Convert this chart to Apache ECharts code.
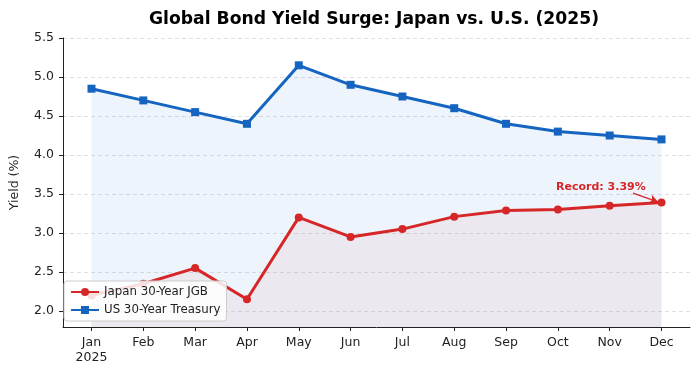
<!DOCTYPE html>
<html>
<head>
<meta charset="utf-8">
<script src="https://cdn.jsdelivr.net/npm/echarts@6/dist/echarts.min.js"></script>
<style>html,body{margin:0;padding:0;background:#fff;}#c{width:700px;height:375px;}</style>
</head>
<body>
<div id="c"></div>
<script>
const months = ['Jan\n2025','Feb','Mar','Apr','May','Jun','Jul','Aug','Sep','Oct','Nov','Dec'];
const japanJGB = [2.20, 2.35, 2.55, 2.15, 3.20, 2.95, 3.05, 3.21, 3.29, 3.30, 3.35, 3.39];
const usTreasury = [4.85, 4.70, 4.55, 4.40, 5.15, 4.90, 4.75, 4.60, 4.40, 4.30, 4.25, 4.20];
const yTicks = [2.0, 2.5, 3.0, 3.5, 4.0, 4.5, 5.0, 5.5];
const recordLabel = 'Record: 3.39%';

const idx = months.map((_, i) => i);
const font = '"DejaVu Sans", sans-serif';
const red = '#d62728';
const blue = '#1565c0';

const chart = echarts.init(document.getElementById('c'), null, {renderer: 'canvas'});
chart.setOption({
  animation: false,
  backgroundColor: '#fff',
  title: {
    text: 'Global Bond Yield Surge: Japan vs. U.S. (2025)',
    left: 369, top: 6, textAlign: 'center',
    textStyle: {fontFamily: font, fontWeight: 'bold', fontSize: 17.2, color: '#000'}
  },
  grid: {left: 58, right: 10, top: 38, bottom: 48},
  legend: {
    orient: 'vertical', left: 64, top: 281, z: 20,
    padding: [5, 6, 5, 6], itemGap: 6, itemWidth: 28, itemHeight: 10,
    backgroundColor: 'rgba(255,255,255,0.85)', borderColor: '#ccc', borderWidth: 1, borderRadius: 3,
    textStyle: {fontFamily: font, fontSize: 11.8, color: '#222'},
    data: ['Japan 30-Year JGB', 'US 30-Year Treasury']
  },
  xAxis: {
    type: 'value', min: -0.55, max: 11.55,
    axisLine: {show: true, onZero: false, lineStyle: {color: '#222', width: 1}},
    axisTick: {show: true, customValues: idx, length: 4, lineStyle: {color: '#222'}},
    axisLabel: {customValues: idx, formatter: v => months[Math.round(v)], fontFamily: font, fontSize: 12.5, color: '#222', margin: 8, lineHeight: 15},
    splitLine: {show: false}
  },
  yAxis: {
    type: 'value', min: 1.795, max: 5.5,
    name: 'Yield (%)', nameLocation: 'middle', nameGap: 42,
    nameTextStyle: {fontFamily: font, fontSize: 12.5, color: '#222'},
    axisLine: {show: true, onZero: false, lineStyle: {color: '#222', width: 1}},
    axisTick: {show: true, customValues: yTicks, length: 4, lineStyle: {color: '#222'}},
    axisLabel: {customValues: yTicks, formatter: v => v.toFixed(1), fontFamily: font, fontSize: 12.5, color: '#222', margin: 9},
    splitLine: {show: true, lineStyle: {color: '#d8d8d8', type: [4, 3], width: 0.8}}
  },
  series: [
    {
      name: 'US 30-Year Treasury', type: 'line',
      data: idx.map(i => [i, usTreasury[i]]),
      symbol: 'rect', symbolSize: 8,
      lineStyle: {color: blue, width: 3},
      itemStyle: {color: blue},
      areaStyle: {color: 'rgba(21,101,192,0.10)', origin: 'start'},
      z: 2
    },
    {
      name: 'Japan 30-Year JGB', type: 'line',
      data: idx.map(i => [i, japanJGB[i]]),
      symbol: 'circle', symbolSize: 8,
      lineStyle: {color: red, width: 3},
      itemStyle: {color: red},
      areaStyle: {color: 'rgba(214,39,40,0.08)', origin: 'start'},
      z: 2,
      markPoint: {
        symbol: 'circle', symbolSize: 0, silent: true,
        data: [{coord: [9.83, 3.59], value: recordLabel}],
        label: {show: true, position: 'inside', formatter: recordLabel, color: red, fontFamily: font, fontWeight: 'bold', fontSize: 11}
      },
      markLine: {
        silent: true, symbol: ['none', 'arrow'], symbolSize: [7, 8],
        label: {show: false},
        lineStyle: {color: red, width: 1.3, type: 'solid'},
        data: [[{coord: [10.45, 3.51]}, {coord: [10.93, 3.40]}]]
      }
    }
  ]
});
</script>
</body>
</html>
